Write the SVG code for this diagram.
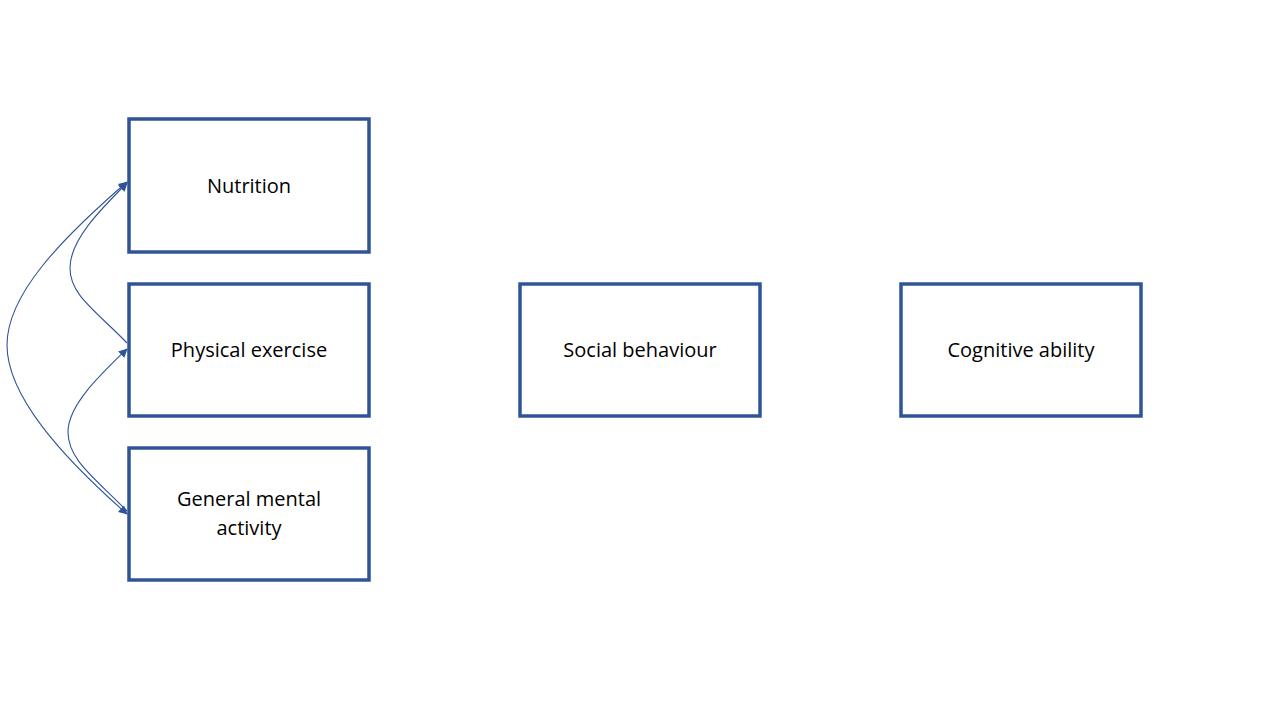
<svg xmlns="http://www.w3.org/2000/svg" width="1280" height="720" viewBox="0 0 1280 720">
<style>
.box{fill:#fff;stroke:#2F5597;stroke-width:3.5}
.lbl{font-family:"Open Sans","Liberation Sans",Arial,sans-serif;font-size:20px;fill:#000;text-anchor:middle}
.con{fill:none;stroke:#2F5597;stroke-width:1.1}
</style>
<defs>
<marker id="ah" viewBox="0 0 10 10" refX="9" refY="5" markerWidth="9" markerHeight="9" markerUnits="userSpaceOnUse" orient="auto-start-reverse">
<path d="M0,0 L10,5 L0,10 z" fill="#2F5597"/>
</marker>
</defs>
<rect width="1280" height="720" fill="#fff"/>
<g id="nutrition"><rect class="box" x="129" y="119" width="240" height="133"/><text class="lbl" x="249" y="193">Nutrition</text></g>
<g id="physical"><rect class="box" x="129" y="284" width="240" height="132"/><text class="lbl" x="249" y="357">Physical exercise</text></g>
<g id="mental"><rect class="box" x="129" y="448" width="240" height="132"/><text class="lbl" x="249" y="506">General mental</text><text class="lbl" x="249" y="535">activity</text></g>
<g id="social"><rect class="box" x="520" y="284" width="240" height="132"/><text class="lbl" x="640" y="357">Social behaviour</text></g>
<g id="cognitive"><rect class="box" x="901" y="284" width="240" height="132"/><text class="lbl" x="1021" y="357">Cognitive ability</text></g>
<g id="connectors">
<path class="con" d="M127,343 C95,310 70,295 70,268 C70,240 100,210 127,183" marker-end="url(#ah)"/>
<path class="con" d="M127,511 C95,478 68,460 68,432 C68,405 100,375 127,349" marker-end="url(#ah)"/>
<path class="con" d="M127,182 C60,240 7,295 7,345 C7,395 60,455 127,514" marker-start="url(#ah)" marker-end="url(#ah)"/>
</g>
</svg>
